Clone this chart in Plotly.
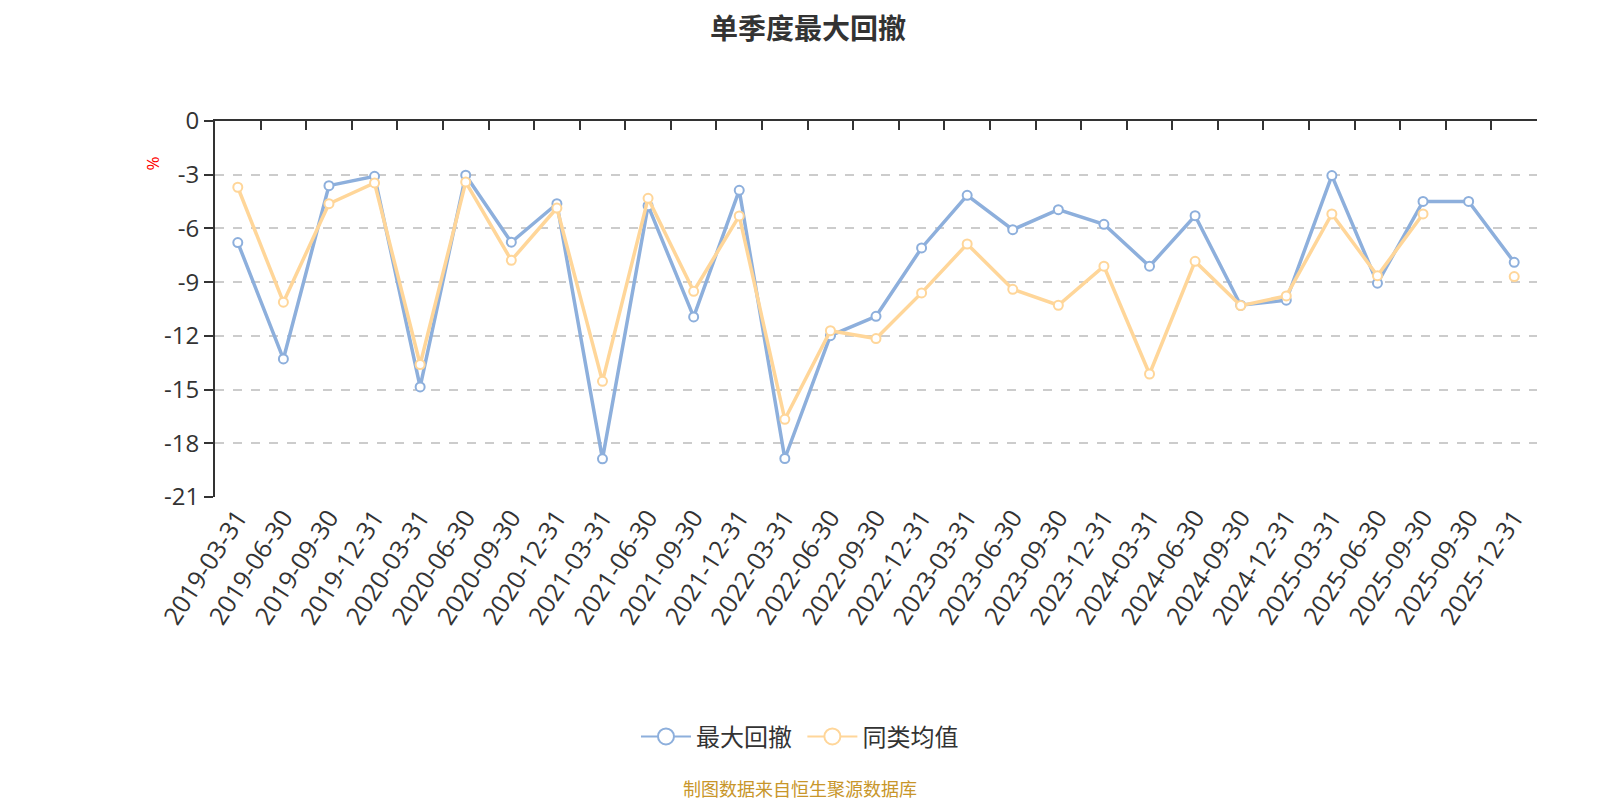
import plotly.graph_objects as go

# quarter-end dates (the 2025-09-30 label appears twice in the source)
dates = ['2019-03-31', '2019-06-30', '2019-09-30', '2019-12-31', '2020-03-31',
         '2020-06-30', '2020-09-30', '2020-12-31', '2021-03-31', '2021-06-30',
         '2021-09-30', '2021-12-31', '2022-03-31', '2022-06-30', '2022-09-30',
         '2022-12-31', '2023-03-31', '2023-06-30', '2023-09-30', '2023-12-31',
         '2024-03-31', '2024-06-30', '2024-09-30', '2024-12-31', '2025-03-31',
         '2025-06-30', '2025-09-30', '2025-09-30', '2025-12-31']

max_dd = [-6.79, -13.29, -3.61, -3.09, -14.85, -3.03, -6.77, -4.62, -18.87, -4.73,
          -10.94, -3.87, -18.85, -11.99, -10.91, -7.09, -4.15, -6.07, -4.95, -5.77,
          -8.11, -5.29, -10.29, -10.01, -3.05, -9.06, -4.49, -4.49, -7.89]

peer_avg = [-3.70, -10.12, -4.62, -3.46, -13.60, -3.41, -7.78, -4.86, -14.54, -4.32,
            -9.51, -5.30, -16.66, -11.71, -12.15, -9.60, -6.87, -9.40, -10.29, -8.11,
            -14.13, -7.84, -10.31, -9.77, -5.19, -8.64, -5.19, None, -8.69]

y_ticks = [0, -3, -6, -9, -12, -15, -18, -21]
y_labels = ['0', '-3', '-6', '-9', '-12', '-15', '-18', '-21']

blue = '#8DAFDC'
orange = '#FFD699'
idx = list(range(len(dates)))

fig = go.Figure()
fig.add_trace(go.Scatter(x=idx, y=max_dd, name='最大回撤', mode='lines+markers',
                         line=dict(color=blue, width=3.5),
                         marker=dict(size=9, color='white', line=dict(color=blue, width=2)),
                         showlegend=False))
fig.add_trace(go.Scatter(x=idx, y=peer_avg, name='同类均值', mode='lines+markers',
                         line=dict(color=orange, width=3.5),
                         marker=dict(size=9, color='white', line=dict(color=orange, width=2)),
                         showlegend=False))
# legend entries with bigger symbols
fig.add_trace(go.Scatter(x=[None], y=[None], name='最大回撤 ', mode='lines+markers',
                         line=dict(color=blue, width=2),
                         marker=dict(size=16, color='white', line=dict(color=blue, width=2))))
fig.add_trace(go.Scatter(x=[None], y=[None], name='同类均值', mode='lines+markers',
                         line=dict(color=orange, width=2),
                         marker=dict(size=16, color='white', line=dict(color=orange, width=2))))
# carrier for the top axis line with boundary ticks
fig.add_trace(go.Scatter(x=[None], y=[None], xaxis='x2', showlegend=False, hoverinfo='skip'))

fig.update_layout(
    width=1600, height=800,
    paper_bgcolor='white', plot_bgcolor='white',
    font=dict(family='Open Sans, Noto Sans CJK SC, sans-serif', color='#333333'),
    margin=dict(l=207, r=71, t=113, b=311),
    title=dict(text='<b>单季度最大回撤</b>', x=0.5, xanchor='center', y=0.974, yanchor='middle',
               font=dict(size=28, color='#333333', family='Noto Sans CJK SC, sans-serif')),
    xaxis=dict(range=[-0.5, len(dates) - 0.5], tickmode='array', tickvals=idx, ticktext=dates,
               tickangle=-57, tickfont=dict(size=25, color='#333333'),
               showgrid=False, zeroline=False, showline=False, ticks=''),
    xaxis2=dict(overlaying='x', side='top', anchor='y',
                range=[-0.5, len(dates) - 0.5], tickmode='array',
                tickvals=[k - 0.5 for k in range(len(dates) + 1)],
                showticklabels=False, ticks='inside', ticklen=9, tickwidth=2, tickcolor='#333333',
                showline=True, linecolor='#333333', linewidth=2, showgrid=False, zeroline=False),
    yaxis=dict(range=[-21, 0], tickmode='array', tickvals=y_ticks, ticktext=y_labels,
               tickfont=dict(size=24, color='#333333'),
               showgrid=True, gridcolor='#CCCCCC', griddash='dash', gridwidth=1.5,
               showline=True, linecolor='#333333', linewidth=2,
               ticks='outside', ticklen=9, tickwidth=2, tickcolor='#333333',
               zeroline=False),
    legend=dict(orientation='h', x=0.4425, xanchor='center', y=-0.638, yanchor='middle',
                font=dict(size=24, color='#333333', family='Noto Sans CJK SC, sans-serif'),
                itemwidth=50),
    showlegend=True,
)

fig.add_annotation(text='%', xref='paper', yref='paper', x=-0.0575, y=0.912,
                   textangle=-90, showarrow=False,
                   font=dict(size=17, color='#FF0000'))
fig.add_annotation(text='制图数据来自恒生聚源数据库', xref='paper', yref='paper',
                   x=0.4425, y=-0.774, yanchor='middle', showarrow=False,
                   font=dict(size=18, color='#C8962A', family='Noto Sans CJK SC, sans-serif'))

fig.write_html('out.html')
